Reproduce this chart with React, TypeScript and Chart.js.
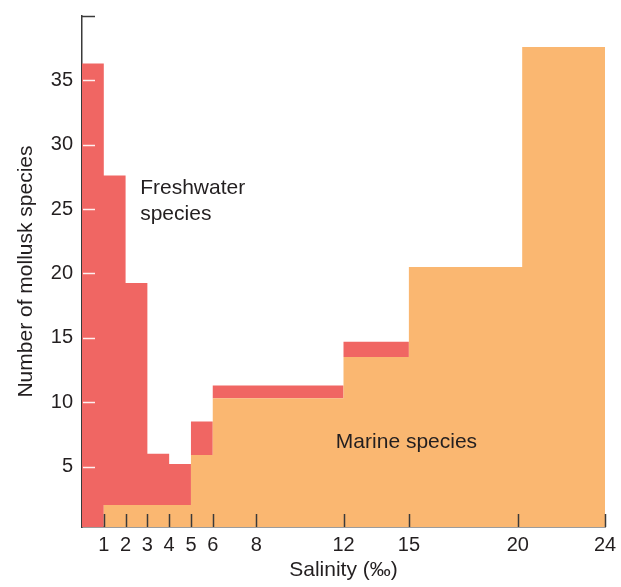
import React, { useEffect, useRef } from "react";
import { Chart, registerables } from "chart.js";

Chart.register(...registerables);

// Salinity bin edges (‰)
const binEdges = [0, 1, 2, 3, 4, 5, 6, 12, 15, 20.2, 24];
// Number of marine species per bin
const marineSpecies = [0, 2.0, 2.0, 2.0, 2.0, 5.9, 10.3, 13.5, 20.5, 37.6];
// Number of freshwater species per bin (stacked on marine)
const freshwaterSpecies = [36.3, 25.6, 17.25, 4.0, 3.2, 2.6, 1.0, 1.2, 0, 0];
// Tick labels
const xTickValues = [1, 2, 3, 4, 5, 6, 8, 12, 15, 20, 24];
const yTickValues = [5, 10, 15, 20, 25, 30, 35];

const RED = "rgb(240,102,99)";
const ORANGE = "rgb(250,183,113)";
const TEXT = "#231f20";
const FONT = "'Liberation Sans', Arial, Helvetica, sans-serif";

const toSteps = (vals: number[]) =>
  binEdges.map((x, i) => ({ x, y: vals[Math.min(i, vals.length - 1)] }));

const noPad = (s: any) => {
  s.paddingTop = 0;
  s.paddingBottom = 0;
  s.paddingLeft = 0;
  s.paddingRight = 0;
};

export default function App() {
  const ref = useRef<HTMLCanvasElement | null>(null);
  useEffect(() => {
    if (!ref.current) return;
    const totals = marineSpecies.map((m, i) => m + freshwaterSpecies[i]);

    const tickPlugin = {
      id: "inwardTicks",
      afterDatasetsDraw(chart: any) {
        const { ctx, chartArea } = chart;
        const xs = chart.scales.x;
        const ys = chart.scales.y;
        ctx.save();
        ctx.lineWidth = 1.5;
        ctx.strokeStyle = "#3a3a3a";
        xTickValues.forEach((v) => {
          const px = Math.round(xs.getPixelForValue(v)) + 0.5;
          ctx.beginPath();
          ctx.moveTo(px, chartArea.bottom);
          ctx.lineTo(px, chartArea.bottom - 13);
          ctx.stroke();
        });
        ctx.strokeStyle = "rgba(255,255,255,0.9)";
        yTickValues.forEach((v) => {
          const py = Math.round(ys.getPixelForValue(v)) + 0.5;
          ctx.beginPath();
          ctx.moveTo(chartArea.left + 1, py);
          ctx.lineTo(chartArea.left + 13, py);
          ctx.stroke();
        });
        // top cap
        ctx.strokeStyle = "#3a3a3a";
        const topY = Math.round(ys.getPixelForValue(ys.max)) + 0.5;
        ctx.beginPath();
        ctx.moveTo(chartArea.left, topY);
        ctx.lineTo(chartArea.left + 13, topY);
        ctx.stroke();

        // annotations
        ctx.fillStyle = TEXT;
        ctx.font = `21px ${FONT}`;
        ctx.textBaseline = "middle";
        ctx.textAlign = "left";
        ctx.fillText("Freshwater", xs.getPixelForValue(2.67), ys.getPixelForValue(26.6));
        ctx.fillText("species", xs.getPixelForValue(2.67), ys.getPixelForValue(24.6));
        ctx.fillText("Marine species", xs.getPixelForValue(11.65), ys.getPixelForValue(6.9));
        ctx.restore();
      },
    };

    const chart = new Chart(ref.current, {
      type: "line",
      data: {
        datasets: [
          {
            label: "Marine species",
            data: toSteps(marineSpecies),
            stepped: true,
            borderWidth: 0,
            pointRadius: 0,
            backgroundColor: ORANGE,
            borderColor: ORANGE,
            fill: "start",
          },
          {
            label: "Freshwater species",
            data: toSteps(totals),
            stepped: true,
            borderWidth: 0,
            pointRadius: 0,
            backgroundColor: RED,
            borderColor: RED,
            fill: "-1",
          },
        ],
      },
      options: {
        animation: false,
        responsive: false,
        maintainAspectRatio: false,
        layout: { padding: { top: 16, right: 16, left: 0, bottom: 0 } },
        plugins: { legend: { display: false }, tooltip: { enabled: false } },
        scales: {
          x: {
            type: "linear",
            min: 0,
            max: 24,
            afterBuildTicks: (s: any) => {
              s.ticks = xTickValues.map((v) => ({ value: v }));
            },
            afterFit: (s: any) => {
              s.height = 60;
              noPad(s);
            },
            grid: { display: true, drawOnChartArea: false, drawTicks: false },
            border: { display: true, color: "#3a3a3a", width: 1.5 },
            ticks: {
              autoSkip: false,
              maxRotation: 0,
              padding: 6,
              color: TEXT,
              font: { family: FONT, size: 20 },
              callback: (v: any) => String(v),
            },
            title: {
              display: true,
              text: "Salinity (‰)",
              color: TEXT,
              font: { family: FONT, size: 21 },
              padding: { top: 0, bottom: 4 },
            },
          },
          y: {
            type: "linear",
            min: 0.3,
            max: 40,
            afterBuildTicks: (s: any) => {
              s.ticks = yTickValues.map((v) => ({ value: v }));
            },
            afterFit: (s: any) => {
              s.width = 82;
              noPad(s);
            },
            grid: { display: true, drawOnChartArea: false, drawTicks: false },
            border: { display: true, color: "#3a3a3a", width: 1.5 },
            ticks: {
              padding: 9,
              color: TEXT,
              font: { family: FONT, size: 20 },
              callback: (v: any) => String(v),
            },
            title: {
              display: true,
              text: "Number of mollusk species",
              color: TEXT,
              font: { family: FONT, size: 21 },
              padding: { top: 14, bottom: 0 },
            },
          },
        },
      },
      plugins: [tickPlugin],
    });
    return () => chart.destroy();
  }, []);

  return (
    <div style={{ position: "fixed", left: 0, top: 0, width: 621, height: 587, background: "#fff" }}>
      <canvas ref={ref} width={621} height={587} style={{ width: 621, height: 587 }} />
    </div>
  );
}
